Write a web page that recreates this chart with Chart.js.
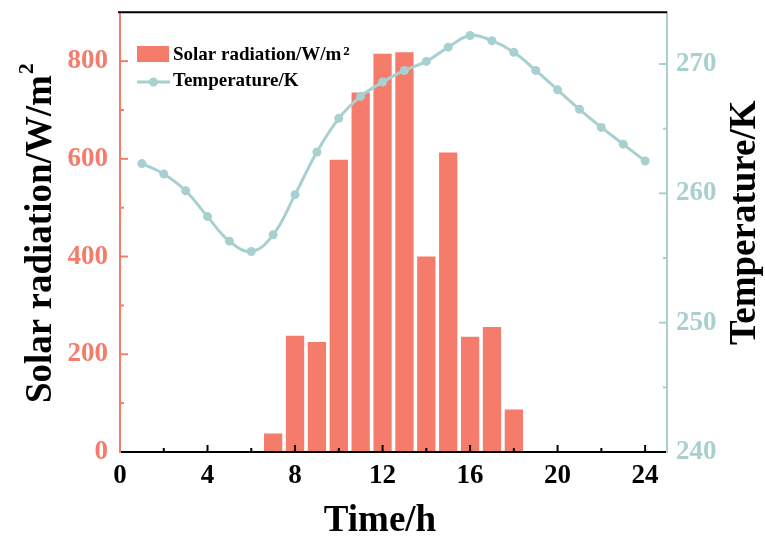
<!DOCTYPE html>
<html>
<head>
<meta charset="utf-8">
<title>Solar radiation and temperature</title>
<script src="https://cdn.jsdelivr.net/npm/chart.js@4/dist/chart.umd.min.js"></script>
<style>
  html, body { margin: 0; padding: 0; background: #ffffff; }
  canvas { display: block; }
</style>
</head>
<body>
<canvas id="chart" width="765" height="538"></canvas>
<script>
'use strict'

// **** DATA ****
let hours = [1, 2, 3, 4, 5, 6, 7, 8, 9, 10, 11, 12, 13, 14, 15, 16, 17, 18, 19, 20, 21, 22, 23, 24];
let temperature = [262.3, 261.5, 260.2, 258.2, 256.3, 255.5, 256.8, 259.9, 263.2, 265.8, 267.5, 268.6,
                   269.5, 270.2, 271.3, 272.2, 271.8, 270.9, 269.5, 268.0, 266.5, 265.1, 263.8, 262.5];
let sunHours = [7, 8, 9, 10, 11, 12, 13, 14, 15, 16, 17, 18];
let radiation = [38, 238, 225, 598, 736, 815, 818, 400, 613, 236, 256, 87];

let xTicks = [0, 4, 8, 12, 16, 20, 24];
let xMinor = [2, 6, 10, 14, 18, 22];
let radTicks = [0, 200, 400, 600, 800];
let radMinor = [100, 300, 500, 700];
let tempTicks = [240, 250, 260, 270];
let tempMinor = [245, 255, 265];

// **** STYLE ****
let barColor = '#f57b6b';
let lineColor = '#a9d0d0';
let serif = '"Liberation Serif", "Times New Roman", serif';

// **** HELPERS ****
function setTicks(values) {
  return function (scale) {
    scale.ticks = values.map(v => ({ value: v }));
  };
}

function drawInward(ctx, scale, values, len, color, side) {
  ctx.strokeStyle = color;
  ctx.lineWidth = 2;
  for (let i = 0; i < values.length; i++) {
    let p = scale.getPixelForValue(values[i]);
    ctx.beginPath();
    if (side === 'left') { ctx.moveTo(scale.right, p); ctx.lineTo(scale.right + len, p); }
    if (side === 'right') { ctx.moveTo(scale.left, p); ctx.lineTo(scale.left - len, p); }
    if (side === 'bottom') { ctx.moveTo(p, scale.top); ctx.lineTo(p, scale.top - len); }
    ctx.stroke();
  }
}

// **** PLUGIN: ticks, frame, titles, legend ****
let decorations = {
  id: 'decorations',
  afterDraw(chart) {
    let ctx = chart.ctx;
    let area = chart.chartArea;
    let s = chart.scales;
    ctx.save();

    // frame
    ctx.strokeStyle = '#000000';
    ctx.lineWidth = 2;
    ctx.beginPath();
    ctx.moveTo(area.left - 2, area.top);
    ctx.lineTo(area.right, area.top);
    ctx.moveTo(area.left + 6, area.bottom);
    ctx.lineTo(area.right - 9, area.bottom);
    ctx.stroke();

    // inward ticks
    drawInward(ctx, s.x, xTicks.slice(1), 7, '#000000', 'bottom');
    drawInward(ctx, s.x, xMinor, 4, '#000000', 'bottom');
    drawInward(ctx, s.y, radTicks.slice(1), 8, barColor, 'left');
    drawInward(ctx, s.y, radMinor, 4, barColor, 'left');
    drawInward(ctx, s.y1, tempTicks.slice(1), 8, lineColor, 'right');
    drawInward(ctx, s.y1, tempMinor, 4, lineColor, 'right');

    // axis titles
    ctx.fillStyle = '#000000';
    ctx.textBaseline = 'alphabetic';
    ctx.font = 'bold 37px ' + serif;
    ctx.textAlign = 'center';
    ctx.fillText('Time/h', 380, 531);

    ctx.textAlign = 'left';
    ctx.save();
    ctx.translate(51, 403);
    ctx.rotate(-Math.PI / 2);
    ctx.font = 'bold 37px ' + serif;
    ctx.fillText('Solar radiation/W/m', 0, 0);
    let w = ctx.measureText('Solar radiation/W/m').width;
    ctx.font = 'bold 22px ' + serif;
    ctx.fillText('2', w + 1, -18);
    ctx.restore();

    ctx.save();
    ctx.translate(755, 345);
    ctx.rotate(-Math.PI / 2);
    ctx.font = 'bold 37px ' + serif;
    ctx.fillText('Temperature/K', 0, 0);
    ctx.restore();

    // legend
    ctx.fillStyle = barColor;
    ctx.fillRect(137, 46, 32, 16);
    ctx.strokeStyle = lineColor;
    ctx.lineWidth = 3;
    ctx.beginPath();
    ctx.moveTo(137, 82);
    ctx.lineTo(170, 82);
    ctx.stroke();
    ctx.fillStyle = lineColor;
    ctx.beginPath();
    ctx.arc(153.5, 82, 4.5, 0, Math.PI * 2);
    ctx.fill();

    ctx.fillStyle = '#000000';
    ctx.font = 'bold 19px ' + serif;
    ctx.fillText('Solar radiation/W/m', 173, 60);
    let lw = ctx.measureText('Solar radiation/W/m').width;
    ctx.font = 'bold 13px ' + serif;
    ctx.fillText('2', 173 + lw + 2, 55);
    ctx.font = 'bold 19px ' + serif;
    ctx.fillText('Temperature/K', 173, 86);

    ctx.restore();
  }
};

// **** CHART ****
const data = {
  datasets: [{
    type: 'line',
    label: 'Temperature/K',
    data: hours.map((h, i) => ({ x: h, y: temperature[i] })),
    yAxisID: 'y1',
    borderColor: lineColor,
    backgroundColor: lineColor,
    borderWidth: 3,
    pointRadius: 4.5,
    pointBorderWidth: 0,
    tension: 0.4,
    order: 0
  },
  {
    type: 'bar',
    label: 'Solar radiation/W/m\u00b2',
    data: sunHours.map((h, i) => ({ x: h, y: radiation[i] })),
    yAxisID: 'y',
    backgroundColor: barColor,
    borderWidth: 0,
    categoryPercentage: 1,
    barPercentage: 0.835,
    order: 1
  }]
};

// tiny line height on the vertical axes keeps Chart.js from padding the top
const xFont = { family: serif, size: 27, weight: 'bold', lineHeight: 0.89 };
const yFont = { family: serif, size: 27, weight: 'bold', lineHeight: 0.02 };

const config = {
  type: 'bar',
  data: data,
  plugins: [decorations],
  options: {
    responsive: false,
    animation: false,
    layout: { padding: { top: 0, left: 0, right: 0, bottom: 0 } },
    plugins: {
      legend: { display: false },
      tooltip: { enabled: false }
    },
    scales: {
      x: {
        type: 'linear',
        offset: false,
        min: 0,
        max: 25,
        afterBuildTicks: setTicks(xTicks),
        afterFit(scale) { scale.height = 86; },
        grid: { display: false, drawTicks: false, offset: false },
        border: { display: true, color: '#000000', width: 2 },
        ticks: {
          padding: 12,
          color: '#000000',
          font: xFont
        }
      },
      y: {
        position: 'left',
        min: 0,
        max: 900,
        afterBuildTicks: setTicks(radTicks),
        afterFit(scale) { scale.width = 120; },
        grid: { display: false, drawTicks: false },
        border: { display: true, color: barColor, width: 2 },
        ticks: {
          padding: 12,
          color: barColor,
          font: yFont
        }
      },
      y1: {
        position: 'right',
        min: 240,
        max: 274,
        afterBuildTicks: setTicks(tempTicks),
        afterFit(scale) { scale.width = 98; },
        grid: { display: false, drawTicks: false },
        border: { display: true, color: lineColor, width: 2 },
        ticks: {
          padding: 9,
          color: lineColor,
          font: yFont
        }
      }
    }
  }
};

const ctx = document.getElementById('chart');
const myChart = new Chart(ctx, config);
</script>
</body>
</html>
